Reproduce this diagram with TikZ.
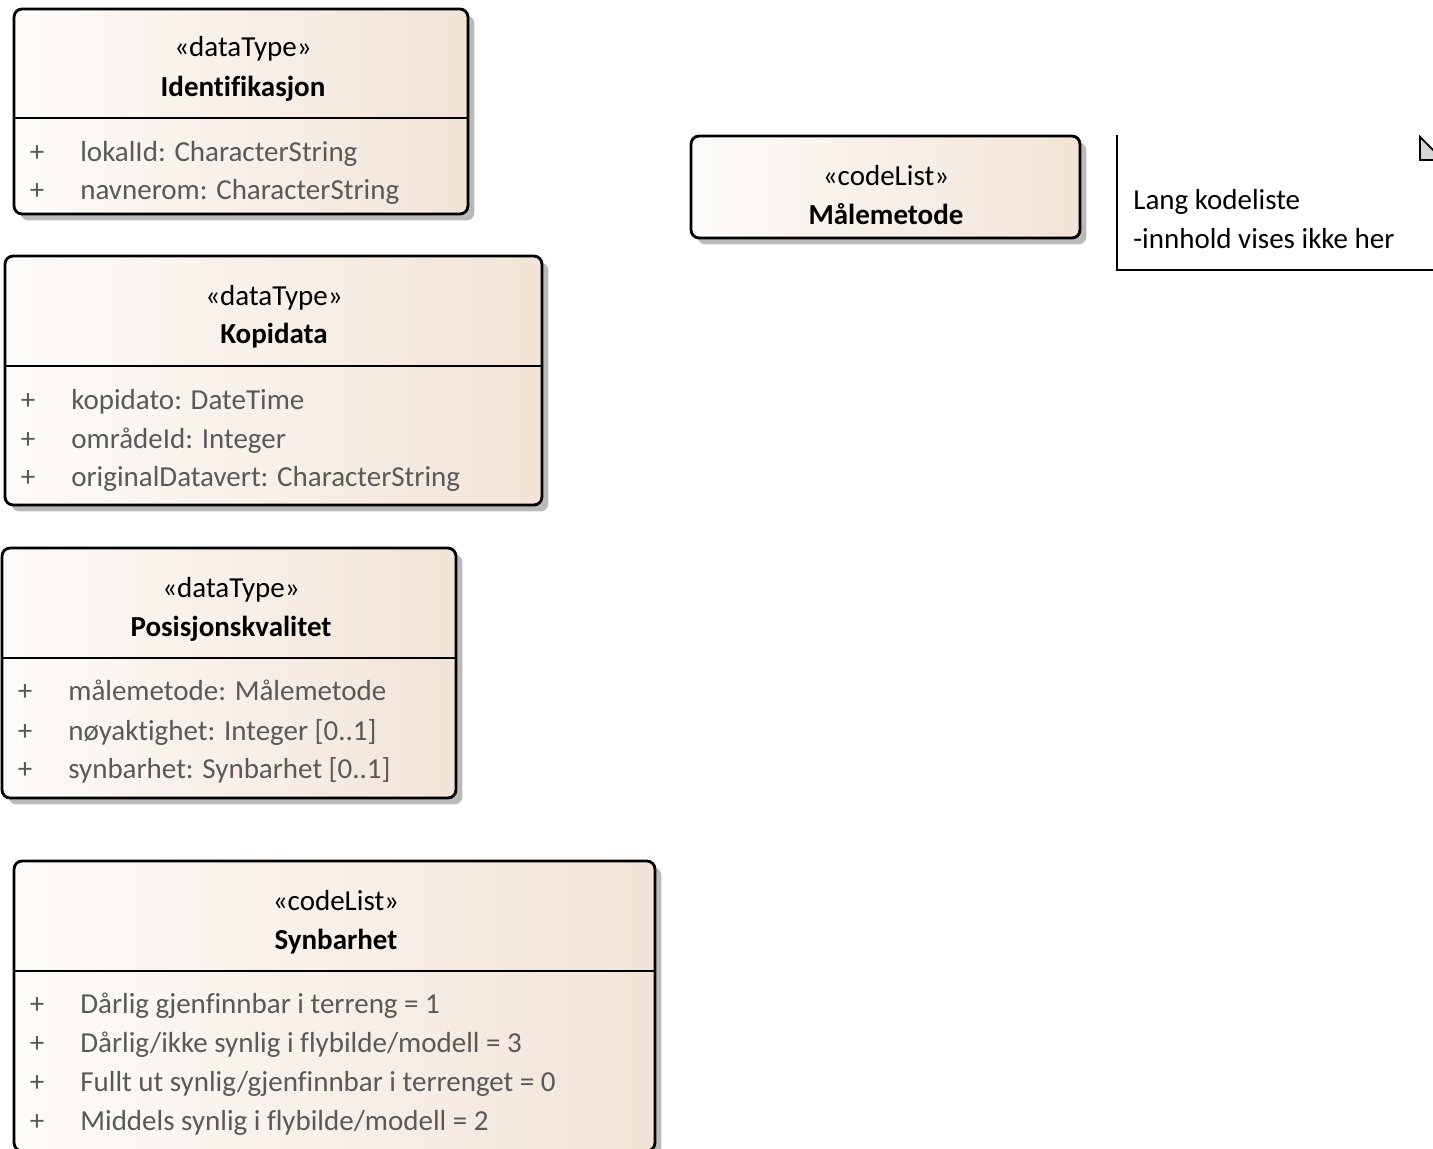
\documentclass[tikz,border=0pt]{standalone}
\usepackage{fontspec}
\setmainfont{Carlito}[Ligatures=NoCommon]
\usepackage{tikz}
\usetikzlibrary{shadows, positioning}
\definecolor{EALeft}{RGB}{253, 251, 249}
\definecolor{EARight}{RGB}{242, 228, 215}
\definecolor{EAGray}{RGB}{89, 89, 89}
\definecolor{EAFold}{RGB}{215, 215, 215}

\begin{document}
\begin{tikzpicture}[x=0.02cm, y=-0.02cm,
	font=\fontsize{16.5}{22}\selectfont,
	cls/.style={draw, line width=1.6pt, rounded corners=0.16cm,
		left color=EALeft, right color=EARight, inner sep=0pt,
		drop shadow={shadow xshift=0.13cm, shadow yshift=-0.13cm,
			fill=black!45, opacity=0.6}},
	sep/.style={line width=1.3pt},
	st/.style={anchor=base, inner sep=0pt},
	nm/.style={anchor=base, inner sep=0pt, font=\fontsize{16.5}{22}\selectfont\bfseries},
	pl/.style={anchor=base, inner sep=0pt, text=EAGray},
	attr/.style={anchor=base west, inner sep=0pt, text=EAGray}]
	\clip (0,0) rectangle (1433,1149);
	% Identifikasjon
	\node[cls, minimum width=9.08cm, minimum height=4.10cm] (ident) at (241,111.5) {};
	\draw[sep] (14,118) -- (468,118);
	\node[st] (ident-st) at (243,57) {«dataType»};
	\node[nm] (ident-nm) at (243,96) {Identifikasjon};
	\node[pl] (ident-p1) at (37,161) {+};
	\node[attr] (ident-a1) at (80,161) {lokalId: CharacterString};
	\node[pl] (ident-p2) at (37,199) {+};
	\node[attr] (ident-a2) at (80,199) {navnerom: CharacterString};
	% Kopidata
	\node[cls, minimum width=10.74cm, minimum height=4.98cm] (kopi) at (273.5,380.5) {};
	\draw[sep] (5,366) -- (542,366);
	\node[st] (kopi-st) at (274,305) {«dataType»};
	\node[nm] (kopi-nm) at (274,343) {Kopidata};
	\node[pl] (kopi-p1) at (28,409) {+};
	\node[attr] (kopi-a1) at (71,409) {kopidato: DateTime};
	\node[pl] (kopi-p2) at (28,448) {+};
	\node[attr] (kopi-a2) at (71,448) {områdeId: Integer};
	\node[pl] (kopi-p3) at (28,486) {+};
	\node[attr] (kopi-a3) at (71,486) {originalDatavert: CharacterString};
	% Posisjonskvalitet
	\node[cls, minimum width=9.08cm, minimum height=5.0cm] (posi) at (229,673) {};
	\draw[sep] (2,658) -- (456,658);
	\node[st] (posi-st) at (231,597) {«dataType»};
	\node[nm] (posi-nm) at (231,636) {Posisjonskvalitet};
	\node[pl] (posi-p1) at (25,700) {+};
	\node[attr] (posi-a1) at (68,700) {målemetode: Målemetode};
	\node[pl] (posi-p2) at (25,740) {+};
	\node[attr] (posi-a2) at (68,740) {nøyaktighet: Integer [0..1]};
	\node[pl] (posi-p3) at (25,778) {+};
	\node[attr] (posi-a3) at (68,778) {synbarhet: Synbarhet [0..1]};
	% Synbarhet
	\node[cls, minimum width=12.82cm, minimum height=5.8cm] (synb) at (334.5,1006) {};
	\draw[sep] (14,971) -- (655,971);
	\node[st] (synb-st) at (336,910) {«codeList»};
	\node[nm] (synb-nm) at (336,949) {Synbarhet};
	\node[pl] (synb-p1) at (37,1013) {+};
	\node[attr] (synb-a1) at (80,1013) {Dårlig gjenfinnbar i terreng = 1};
	\node[pl] (synb-p2) at (37,1052) {+};
	\node[attr] (synb-a2) at (80,1052) {Dårlig/ikke synlig i flybilde/modell = 3};
	\node[pl] (synb-p3) at (37,1091) {+};
	\node[attr] (synb-a3) at (80,1091) {Fullt ut synlig/gjenfinnbar i terrenget = 0};
	\node[pl] (synb-p4) at (37,1130) {+};
	\node[attr] (synb-a4) at (80,1130) {Middels synlig i flybilde/modell = 2};
	% Maalemetode
	\node[cls, minimum width=7.78cm, minimum height=2.04cm] (male) at (885.5,187) {};
	\node[st] (male-st) at (886,185) {«codeList»};
	\node[nm] (male-nm) at (886,224) {Målemetode};
	% note
	\draw[line width=1.3pt] (1117,135) -- (1117,270) -- (1445,270);
	\filldraw[fill=EAFold, line width=1pt] (1420,137) -- (1420,160) -- (1443,160) -- cycle;
	\node[attr, text=black] (note-l1) at (1133,209) {Lang kodeliste};
	\node[attr, text=black] (note-l2) at (1133,248) {-innhold vises ikke her};
\end{tikzpicture}
\end{document}
